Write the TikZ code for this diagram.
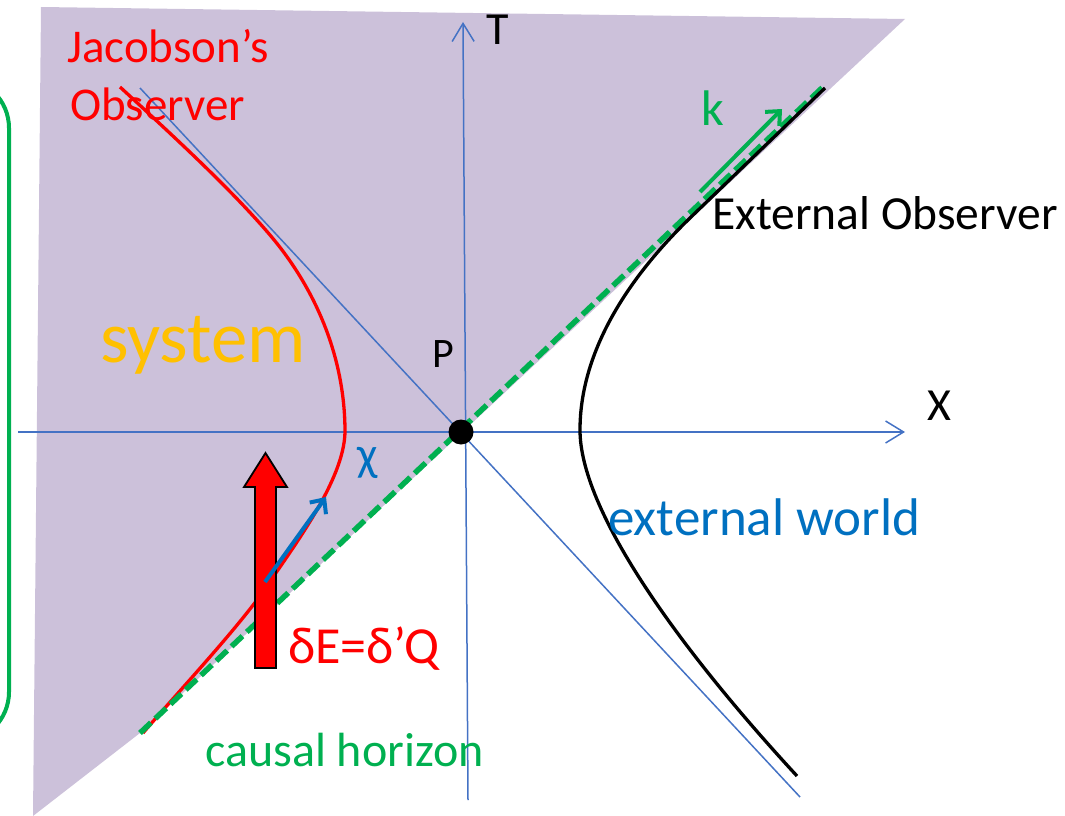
\documentclass[tikz,border=0pt]{standalone}
\usepackage{fontspec}
\setmainfont{Carlito}
\usetikzlibrary{arrows.meta}
\definecolor{lav}{HTML}{CCC1DA}
\definecolor{axblue}{HTML}{4472C4}
\definecolor{tblue}{HTML}{0070C0}
\definecolor{hgreen}{HTML}{00B050}
\definecolor{sysorange}{HTML}{FFC000}
\begin{document}
\begin{tikzpicture}[x=1pt,y=-1pt,
  lbl/.style={inner sep=0pt, anchor=base west},
  fsz/.style={font=\fontsize{#1}{#1}\selectfont},
  axisline/.style={axblue, line width=1.5pt},
  axisarrow/.style={axisline, -{Straight Barb[length=18pt,width=22pt]}},
  vecarrow/.style={line width=4pt, -{Straight Barb[length=11pt,width=20pt]}},
  worldline/.style={line width=3.3pt},
  horizon/.style={hgreen, line width=5.5pt, dash pattern=on 15pt off 6pt}]
\useasboundingbox (0,0) rectangle (1065,816);
\clip (0,0) rectangle (1065,816);
% shaded region
\fill[lav] (41,7) -- (905,19) -- (140,733) -- (33,816) -- cycle;
% green bracket at left
\draw[hgreen, line width=4pt, rounded corners=50pt] (-90,78) -- (9,78) -- (9,742) -- (-90,742);
% coordinates
\coordinate (xs) at (18,432);
\coordinate (xe) at (905,432);
\coordinate (ts) at (468,800);
\coordinate (te) at (463,22);
\coordinate (ds) at (140,88);
\coordinate (de) at (800,797);
\coordinate (hb) at (140,733);
\coordinate (ht) at (823,87);
% axes
\draw[axisarrow] (xs) -- (xe);
\draw[axisarrow] (ts) -- (te);
\draw[axisline] (ds) -- (de);
% Jacobson's observer worldline
\draw[red, worldline] (120,87) .. controls (170,133) and (230,188) .. (270,235)
  .. controls (310,282) and (345,350) .. (345,432)
  .. controls (344,480) and (295,545) .. (257,600) .. controls (225,642) and (180,690) .. (143,733);
% causal horizon
\draw[horizon] (hb) -- (ht);
% external observer worldline
\draw[black, worldline] (825,88) -- (690,218) .. controls (630,276) and (580,350) .. (580,430)
  .. controls (580,510) and (677,646) .. (797,776);
% heat flow arrow
\draw[black, line width=1.8pt, fill=red, line join=miter] (255,668) -- (255,487) -- (244,487) -- (265.5,453)
  -- (287,487) -- (276,487) -- (276,668) -- cycle;
% chi vector
\coordinate (cs) at (265,582);
\coordinate (ce) at (326,497);
\draw[tblue, vecarrow] (cs) -- (ce);
% k vector
\coordinate (ks) at (700,192);
\coordinate (ke) at (782,109);
\draw[hgreen, vecarrow] (ks) -- (ke);
% point P
\node[circle, fill=black, minimum size=25pt, inner sep=0pt] (P) at (461,432) {};
% labels
\node[lbl, fsz=47, red] (jac1) at (67,63) {Jacobson’s};
\node[lbl, fsz=47, red] (jac2) at (70,120) {Observer};
\node[lbl, fsz=73, sysorange] (sys) at (100,362) {system};
\node[lbl, fsz=42] (Plbl) at (432,367) {P};
\node[lbl, fsz=46] (Xlbl) at (927,420) {X};
\node[lbl, fsz=46] (Tlbl) at (486,45) {T};
\node[lbl, fsz=50, hgreen] (klbl) at (701,125) {k};
\node[lbl, fsz=47.5] (ext) at (712,229) {External Observer};
\node[lbl, fsz=48, tblue] (chi) at (357,470) {χ};
\node[lbl, fsz=53, tblue] (world) at (608,535) {external world};
\node[lbl, fsz=52, red] (heat) at (288,663) {δE=δ’Q};
\node[lbl, fsz=48, hgreen] (caus) at (205,766) {causal horizon};
\end{tikzpicture}
\end{document}
